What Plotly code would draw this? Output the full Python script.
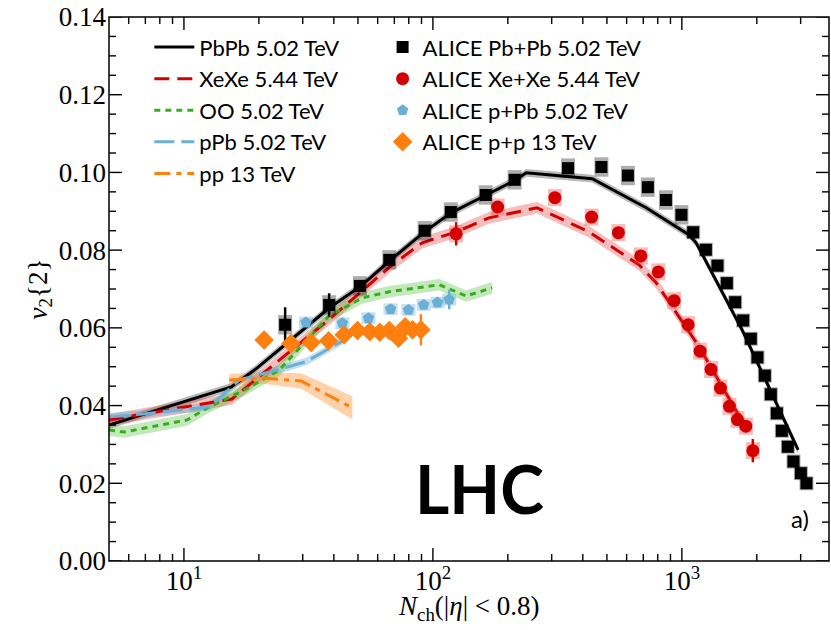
import plotly.graph_objects as go

# ---------------- data ----------------
# Theory curves
pbpb_th_nch = [5.0, 15.5, 19.7, 38.3, 51.5, 66.8, 92.4, 118.4, 163.7, 216, 237, 436.5, 719, 1070, 1141, 1746, 2931]
pbpb_th_v2 = [0.0350, 0.0448, 0.0497, 0.0651, 0.0708, 0.0772, 0.0847, 0.0896, 0.0942, 0.0981, 0.0999, 0.0984, 0.0909, 0.0839, 0.0819, 0.0595, 0.0286]
pbpb_th_err = [0.0010] * 17

xexe_th_nch = [5.0, 12.1, 15.6, 38.3, 50.6, 68.0, 90.6, 124, 168, 262, 424, 674, 788, 1174, 1812]
xexe_th_v2 = [0.0363, 0.0404, 0.0417, 0.0622, 0.0690, 0.0760, 0.0819, 0.0847, 0.0883, 0.0909, 0.0847, 0.0762, 0.0716, 0.0551, 0.0342]
xexe_th_err = [0.0015] * 15

oo_th_nch = [5.0, 5.76, 10.3, 12.4, 17.5, 24.2, 38.3, 52.0, 66.8, 106, 136, 173]
oo_th_v2 = [0.0337, 0.0332, 0.0363, 0.0394, 0.0440, 0.0492, 0.0631, 0.0677, 0.0693, 0.0711, 0.0682, 0.0703]
oo_th_err = [0.0015] * 12

ppb_th_nch = [5.0, 6.74, 12.7, 16.7, 25.1, 30.9, 44.1]
ppb_th_v2 = [0.0371, 0.0378, 0.0397, 0.0466, 0.0496, 0.0513, 0.0569]
ppb_th_err = [0.0010] * 7

pp_th_nch = [15.2, 20.8, 29.6, 47.5]
pp_th_v2 = [0.0466, 0.0471, 0.0463, 0.0394]
pp_th_err = [0.0015, 0.0015, 0.0020, 0.0030]

# ALICE data
alice_pbpb_nch = [25.5, 38.3, 50.9, 66.8, 92.7, 118, 163, 213, 349, 475, 607, 730, 863, 996, 1110,
                  1249, 1390, 1516, 1637, 1763, 1892, 2012, 2154, 2277, 2407, 2521, 2665, 2807, 3006, 3166]
alice_pbpb_v2 = [0.0608, 0.0659, 0.0708, 0.0775, 0.0850, 0.0898, 0.0942, 0.0981, 0.1011, 0.1014, 0.0992,
                 0.0962, 0.0929, 0.0891, 0.0846, 0.0801, 0.0760, 0.0715, 0.0666, 0.0619, 0.0572, 0.0524,
                 0.0477, 0.0429, 0.0380, 0.0335, 0.0294, 0.0256, 0.0226, 0.0200]
alice_pbpb_stat = [0.0045, 0.0030, 0.0015] + [0.0008] * 27
alice_pbpb_sys = [0.0025] * 14 + [0.0018] * 16

alice_xexe_nch = [124, 182, 309, 434, 556, 684, 805, 931, 1060, 1184, 1310, 1429, 1553, 1672, 1807, 1928]
alice_xexe_v2 = [0.0842, 0.0911, 0.0935, 0.0885, 0.0845, 0.0785, 0.0744, 0.0670, 0.0608, 0.0540,
                 0.0493, 0.0445, 0.0398, 0.0364, 0.0347, 0.0284]
alice_xexe_stat = [0.0030, 0.0015, 0.0015] + [0.0010] * 12 + [0.0030]
alice_xexe_sys = [0.0022] * 16

alice_ppb_nch = [30.9, 43.3, 55.1, 67.6, 79.8, 91.8, 104.3, 116.3]
alice_ppb_v2 = [0.0614, 0.0612, 0.0625, 0.0648, 0.0646, 0.0659, 0.0665, 0.0673]
alice_ppb_stat = [0.0008] * 7 + [0.0025]
alice_ppb_sys = [0.0015] * 8

alice_pp_nch = [21.0, 26.9, 32.4, 38.1, 44.0, 49.8, 55.8, 61.2, 66.8, 72.7, 77.4, 82.8, 89.5]
alice_pp_v2 = [0.0569, 0.0560, 0.0562, 0.0567, 0.0582, 0.0593, 0.0590, 0.0589, 0.0593, 0.0573, 0.0603, 0.0595, 0.0595]
alice_pp_stat = [0.0008] * 10 + [0.0020, 0.0010, 0.0040]

x_tick_vals = [10, 100, 1000]
x_tick_text = ["10<sup>1</sup>", "10<sup>2</sup>", "10<sup>3</sup>"]
x_minor_vals = [m * d for d in (1, 10, 100, 1000) for m in range(2, 10)]
y_tick_vals = [0.00, 0.02, 0.04, 0.06, 0.08, 0.10, 0.12, 0.14]
y_tick_text = ["0.00", "0.02", "0.04", "0.06", "0.08", "0.10", "0.12", "0.14"]
y_minor_vals = [round(i * 0.005, 3) for i in range(29) if i % 4 != 0]

# ---------------- figure ----------------
fig = go.Figure()

def band(xs, ys, es, fillcolor):
    up = [y + e for y, e in zip(ys, es)]
    lo = [y - e for y, e in zip(ys, es)]
    fig.add_trace(go.Scatter(x=list(xs) + list(xs)[::-1], y=up + lo[::-1], fill="toself",
                             fillcolor=fillcolor, line=dict(width=0), mode="lines",
                             showlegend=False, hoverinfo="skip"))

band(pbpb_th_nch, pbpb_th_v2, pbpb_th_err, "rgba(0,0,0,0.28)")
band(xexe_th_nch, xexe_th_v2, xexe_th_err, "rgba(220,40,40,0.30)")
band(oo_th_nch, oo_th_v2, oo_th_err, "rgba(60,180,30,0.30)")
band(ppb_th_nch, ppb_th_v2, ppb_th_err, "rgba(107,174,214,0.40)")
band(pp_th_nch, pp_th_v2, pp_th_err, "rgba(255,127,14,0.35)")

C_BLACK = "#000000"
C_RED = "#d40000"
C_GREEN = "#33b01a"
C_BLUE = "#6baed6"
C_ORANGE = "#ff7f0e"

fig.add_trace(go.Scatter(x=pbpb_th_nch, y=pbpb_th_v2, mode="lines", name="PbPb 5.02 TeV",
                         line=dict(color=C_BLACK, width=3), legend="legend"))
fig.add_trace(go.Scatter(x=xexe_th_nch, y=xexe_th_v2, mode="lines", name="XeXe 5.44 TeV",
                         line=dict(color=C_RED, width=3, dash="15px,8px"), legend="legend"))
fig.add_trace(go.Scatter(x=oo_th_nch, y=oo_th_v2, mode="lines", name="OO 5.02 TeV",
                         line=dict(color=C_GREEN, width=3, dash="6px,5px"), legend="legend"))
fig.add_trace(go.Scatter(x=ppb_th_nch, y=ppb_th_v2, mode="lines", name="pPb 5.02 TeV",
                         line=dict(color=C_BLUE, width=3, dash="20px,7px"), legend="legend"))
fig.add_trace(go.Scatter(x=pp_th_nch, y=pp_th_v2, mode="lines", name="pp 13 TeV",
                         line=dict(color=C_ORANGE, width=3, dash="16px,6px,5px,6px"), legend="legend"))

def sysbox(xs, ys, es, color, w):
    fig.add_trace(go.Scatter(x=xs, y=ys, mode="markers", marker=dict(size=1, opacity=0),
                             error_y=dict(type="data", array=es, color=color, thickness=w, width=0),
                             showlegend=False, hoverinfo="skip"))

sysbox(alice_pbpb_nch, alice_pbpb_v2, alice_pbpb_sys, "rgba(0,0,0,0.32)", 14)
sysbox(alice_xexe_nch, alice_xexe_v2, alice_xexe_sys, "rgba(230,60,60,0.35)", 14)
sysbox(alice_ppb_nch, alice_ppb_v2, alice_ppb_sys, "rgba(107,174,214,0.40)", 14)

fig.add_trace(go.Scatter(x=alice_pbpb_nch, y=alice_pbpb_v2, mode="markers", name="ALICE Pb+Pb 5.02 TeV",
                         marker=dict(symbol="square", size=12, color=C_BLACK),
                         error_y=dict(type="data", array=alice_pbpb_stat, color=C_BLACK, thickness=2.5, width=0),
                         legend="legend2"))
fig.add_trace(go.Scatter(x=alice_xexe_nch, y=alice_xexe_v2, mode="markers", name="ALICE Xe+Xe 5.44 TeV",
                         marker=dict(symbol="circle", size=13, color=C_RED),
                         error_y=dict(type="data", array=alice_xexe_stat, color=C_RED, thickness=2.5, width=0),
                         legend="legend2"))
fig.add_trace(go.Scatter(x=alice_ppb_nch, y=alice_ppb_v2, mode="markers", name="ALICE p+Pb 5.02 TeV",
                         marker=dict(symbol="pentagon", size=12, color=C_BLUE),
                         error_y=dict(type="data", array=alice_ppb_stat, color=C_BLUE, thickness=2.5, width=0),
                         legend="legend2"))
fig.add_trace(go.Scatter(x=alice_pp_nch, y=alice_pp_v2, mode="markers", name="ALICE p+p 13 TeV",
                         marker=dict(symbol="diamond", size=15, color=C_ORANGE),
                         error_y=dict(type="data", array=alice_pp_stat, color=C_ORANGE, thickness=2.5, width=0),
                         legend="legend2"))

axis_font = dict(family="Liberation Serif", size=27, color="black")
legend_font = dict(family="Lato", size=22, color="black")
X_RANGE = [0.699, 3.591]
Y_RANGE = [0, 0.14]

# ---- tick marks on all four sides (inward), placed via the axes ----
PLOT_W, PLOT_H = 720, 544
MAJ, MIN = 13, 7
tick_line = dict(color="black", width=1.4)
shapes = []
for vals, ln in ((x_tick_vals, MAJ), (x_minor_vals, MIN)):
    f = ln / PLOT_H
    for v in vals:
        if 10 ** X_RANGE[0] < v < 10 ** X_RANGE[1]:
            shapes.append(dict(type="line", xref="x", yref="paper", x0=v, x1=v, y0=0, y1=f, line=tick_line))
            shapes.append(dict(type="line", xref="x", yref="paper", x0=v, x1=v, y0=1 - f, y1=1, line=tick_line))
for vals, ln in ((y_tick_vals, MAJ), (y_minor_vals, MIN)):
    f = ln / PLOT_W
    for v in vals:
        shapes.append(dict(type="line", xref="paper", yref="y", x0=0, x1=f, y0=v, y1=v, line=tick_line))
        shapes.append(dict(type="line", xref="paper", yref="y", x0=1 - f, x1=1, y0=v, y1=v, line=tick_line))
# frame
shapes.append(dict(type="rect", xref="paper", yref="paper", x0=0, x1=1, y0=0, y1=1,
                   line=dict(color="black", width=1.5), fillcolor="rgba(0,0,0,0)"))

fig.update_layout(
    width=831, height=630,
    margin=dict(l=109, r=2, t=17, b=69),
    paper_bgcolor="white", plot_bgcolor="white",
    showlegend=True,
    legend=dict(x=0.056, y=0.983, xanchor="left", yanchor="top", font=legend_font,
                bgcolor="rgba(0,0,0,0)", tracegroupgap=0, itemwidth=40),
    legend2=dict(x=0.38, y=0.983, xanchor="left", yanchor="top", font=legend_font,
                 bgcolor="rgba(0,0,0,0)", tracegroupgap=0, itemwidth=30),
    xaxis=dict(type="log", range=X_RANGE, showgrid=False, zeroline=False, showline=False,
               ticks="", tickmode="array", tickvals=x_tick_vals, ticktext=x_tick_text,
               tickfont=axis_font, ticklabelstandoff=1),
    yaxis=dict(range=Y_RANGE, showgrid=False, zeroline=False, showline=False,
               ticks="", tickmode="array", tickvals=y_tick_vals, ticktext=y_tick_text,
               tickfont=axis_font, ticklabelstandoff=2,
               title=dict(text="<i>v</i><sub>2</sub>{2}", font=axis_font, standoff=3)),
    shapes=shapes,
    annotations=[
        dict(text="<i>N</i><sub>ch</sub>(|<i>η</i>| < 0.8)", x=0.5, y=-0.086, xref="paper", yref="paper",
             xanchor="center", yanchor="middle", showarrow=False, font=axis_font),
        dict(text="<b>LHC</b>", x=0.5146, y=0.057, xref="paper", yref="paper",
             showarrow=False, font=dict(family="Lato", size=66, color="black")),
        dict(text="a)", x=0.9745, y=0.047, xref="paper", yref="paper",
             showarrow=False, font=dict(family="Lato", size=24, color="black")),
    ],
)

fig.write_html("out.html",
               config={"displayModeBar": False},
               post_script="document.body.style.margin='0px';document.body.style.overflow='hidden';")
